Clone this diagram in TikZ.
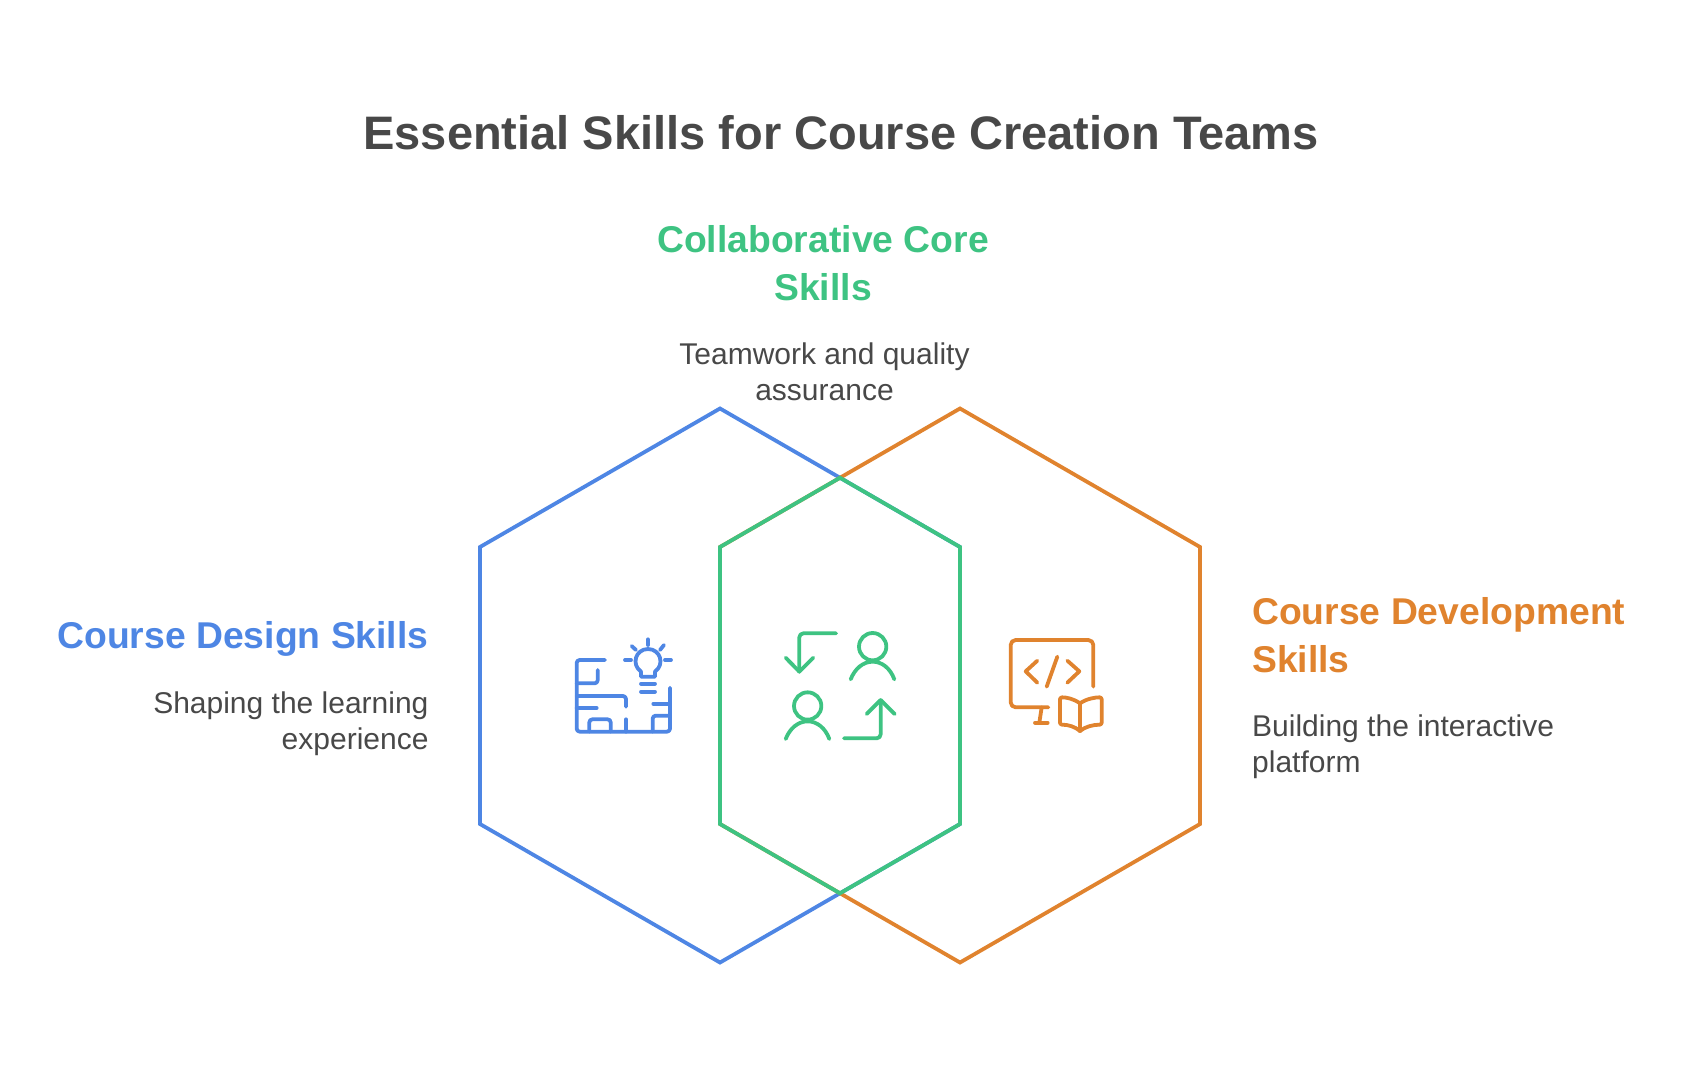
\documentclass[tikz,border=0pt]{standalone}
\usepackage{fontspec}
\setmainfont{Liberation Sans}
\definecolor{designblue}{RGB}{78,134,228}
\definecolor{coregreen}{RGB}{62,195,130}
\definecolor{devorange}{RGB}{224,131,46}
\definecolor{textgray}{RGB}{72,72,72}
\tikzset{
    hexline/.style={line width=3.8pt, line join=miter},
    iconline/.style={line width=3.8pt, line cap=round, line join=round},
    titletext/.style={inner sep=0pt, text=textgray, font=\fontsize{47}{54}\selectfont\bfseries},
    headtext/.style={inner sep=0pt, font=\fontsize{37.3}{48}\selectfont\bfseries},
    desctext/.style={inner sep=0pt, text=textgray, font=\fontsize{30}{36}\selectfont},
    iconbox/.style={x=0.3333pt, y=-0.3333pt}
}

\begin{document}
\begin{tikzpicture}[x=1pt,y=-1pt]

    \useasboundingbox (0,0) rectangle (1704,1080);

    % Title
    \node[titletext] (title) at (841,132.5) {Essential Skills for Course Creation Teams};

    % Hexagons
    \draw[hexline, designblue] (720,408.5) -- (960,547) -- (960,824) -- (720,962.5) -- (480,824) -- (480,547) -- cycle;
    \draw[hexline, devorange] (960,408.5) -- (1200,547) -- (1200,824) -- (960,962.5) -- (720,824) -- (720,547) -- cycle;
    \draw[hexline, coregreen] (840,477.75) -- (960,547) -- (960,824) -- (840,893.25) -- (720,824) -- (720,547) -- cycle;

    % Core text
    \node[headtext, coregreen, align=center] (corehead) at (823,263.5) {Collaborative Core\\Skills};
    \node[desctext, align=center] (coredesc) at (824.5,371.7) {Teamwork and quality\\assurance};

    % Design text
    \node[headtext, designblue, anchor=east] (designhead) at (428.7,639) {Course Design Skills};
    \node[desctext, align=right, anchor=east] (designdesc) at (428.7,723.5) {Shaping the learning\\experience};

    % Development text
    \node[headtext, devorange, align=left, anchor=west] (devhead) at (1252,635) {Course Development\\Skills};
    \node[desctext, align=left, anchor=west] (devdesc) at (1252,747) {Building the interactive\\platform};

    % Design icon
    \begin{scope}[shift={(560,620)}, iconbox, iconline, designblue]
        \draw[rounded corners=3pt] (135,120) -- (50,120) -- (50,335) -- (330,335) -- (330,203);
        \draw[rounded corners=3pt] (113,150) -- (113,190) -- (50,190);
        \draw[rounded corners=3pt] (50,228) -- (198,228) -- (198,260);
        \draw (50,264) -- (110,264);
        \draw[rounded corners=3pt] (88,335) -- (88,298) -- (152,298) -- (152,335);
        \draw (198,298) -- (198,335);
        \draw[rounded corners=3pt] (278,335) -- (278,287) -- (330,287);
        \draw (280,251) -- (330,251);
        % Bulb
        \draw (243,170) -- (243,155) .. controls (212,132) and (228,87) .. (264,87) .. controls (300,87) and (316,132) .. (285,155) -- (285,170) -- cycle;
        \draw (243,191) -- (285,191);
        \draw (243,215) -- (285,215);
        \draw (264,58) -- (264,75);
        \draw (215,78) -- (228,90);
        \draw (312,75) -- (300,90);
        \draw (195,120) -- (213,120);
        \draw (315,120) -- (333,120);
    \end{scope}

    % Core icon
    \begin{scope}[shift={(770,620)}, iconbox, iconline, coregreen]
        \draw[rounded corners=4pt] (198,40) -- (88,40) -- (88,155);
        \draw (47,113) -- (88,155) -- (130,113);
        \draw (308,80) circle (41);
        \draw (242,178) .. controls (255,145) and (280,125) .. (308,125) .. controls (336,125) and (361,145) .. (373,178);
        \draw (113,258) circle (41);
        \draw (47,357) .. controls (60,324) and (85,304) .. (113,304) .. controls (141,304) and (166,324) .. (178,357);
        \draw[rounded corners=4pt] (222,355) -- (332,355) -- (332,240);
        \draw (290,282) -- (332,240) -- (374,282);
    \end{scope}

    % Development icon
    \begin{scope}[shift={(1000,620)}, iconbox, iconline, devorange]
        \draw[rounded corners=5pt] (280,200) -- (280,60) -- (32,60) -- (32,262) -- (145,262);
        \draw (125,262) -- (118,308);
        \draw (105,308) -- (143,308);
        \draw (112,122) -- (77,154) -- (112,188);
        \draw (202,122) -- (238,154) -- (202,188);
        \draw (172,110) -- (140,200);
        % Book
        \draw (240,250) -- (240,333);
        \draw[rounded corners=2pt] (240,250) .. controls (220,236) and (200,232) .. (180,232) -- (180,314) .. controls (205,314) and (225,320) .. (240,333);
        \draw[rounded corners=2pt] (240,250) .. controls (260,236) and (285,232) .. (305,232) -- (305,314) .. controls (280,314) and (255,320) .. (240,333);
    \end{scope}

\end{tikzpicture}
\end{document}
